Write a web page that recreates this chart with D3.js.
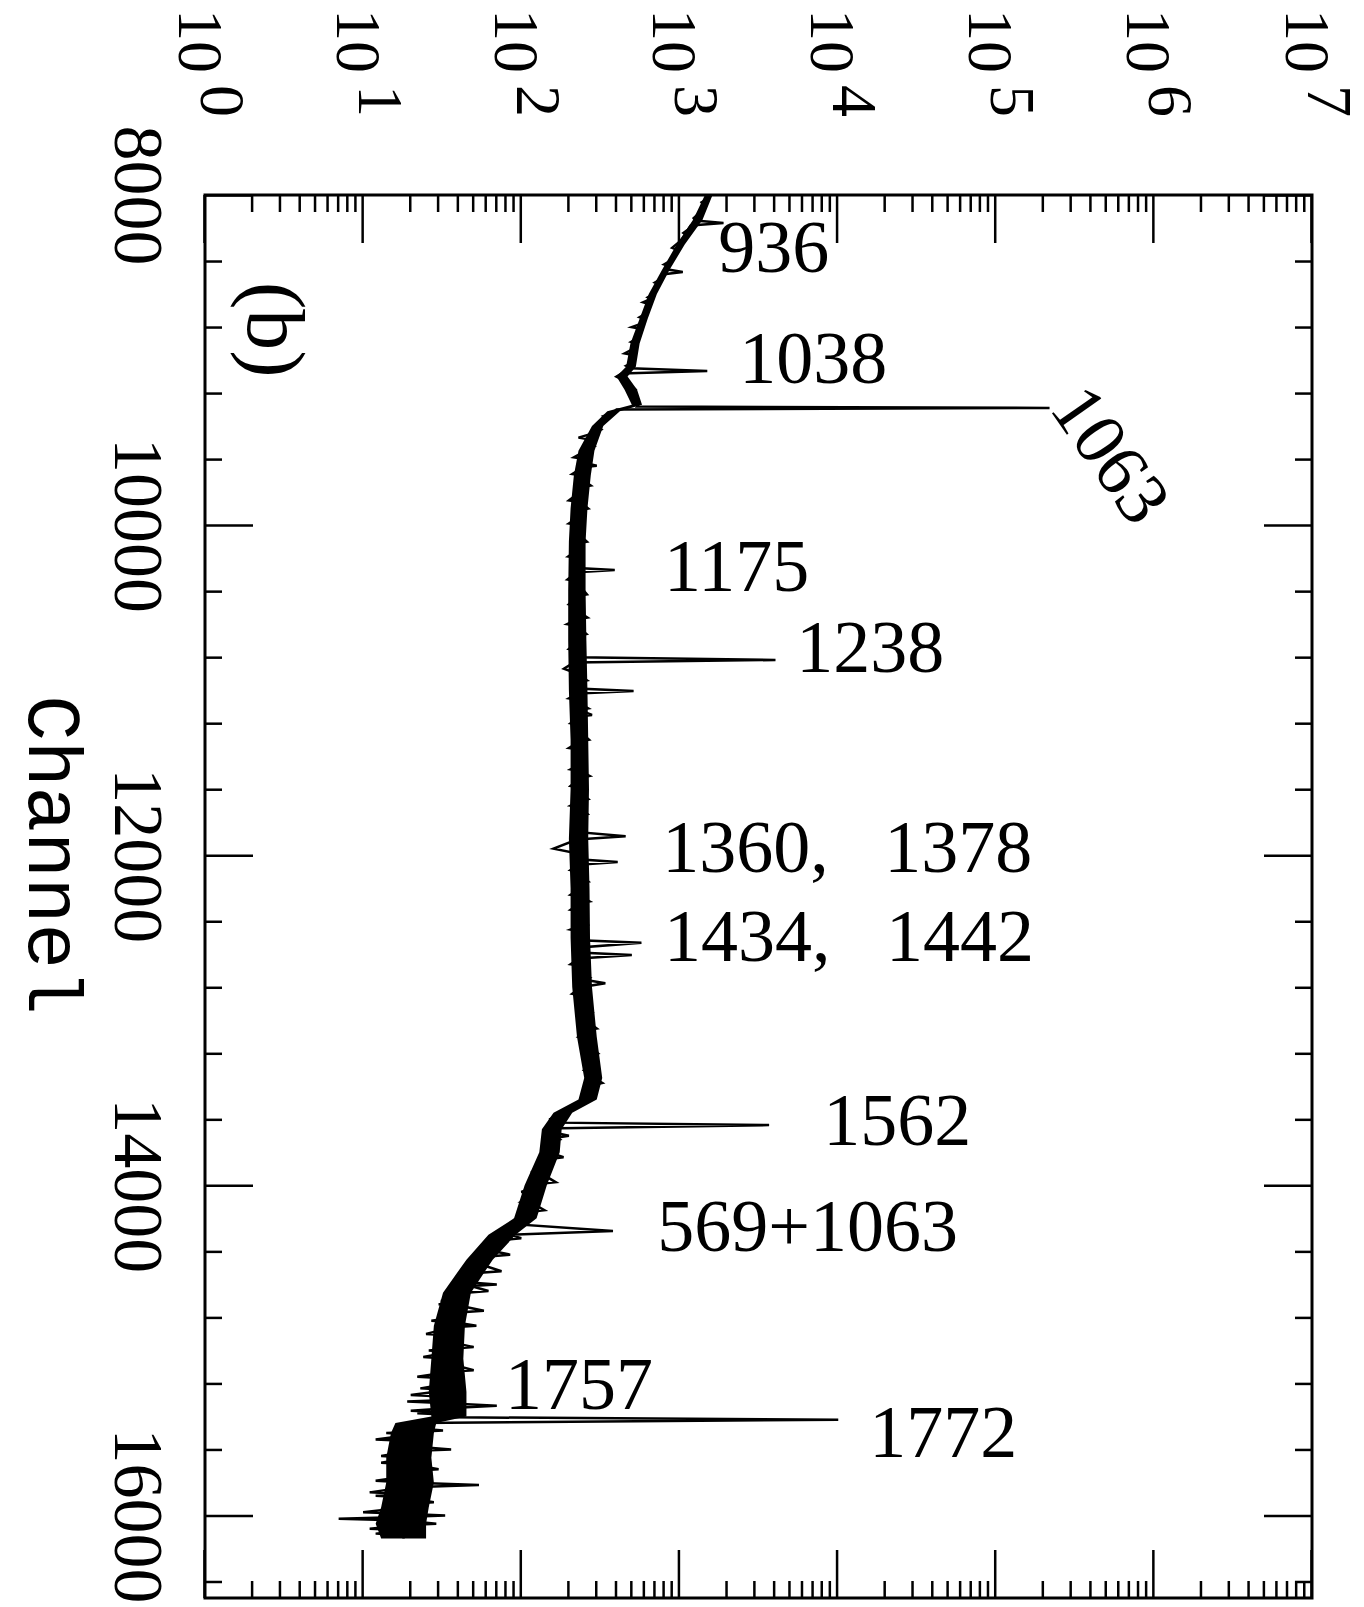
<!DOCTYPE html>
<html>
<head>
<meta charset="utf-8">
<script src="https://cdn.jsdelivr.net/npm/d3@7/dist/d3.min.js"></script>
<style>
  body { margin: 0; background: #fff; }
  text { fill: #000; }
</style>
</head>
<body>
<div id="chart-area"></div>
<script>

// spectrum trace as [channel, counts] (w = noise whisker)
var traceTop = [[8000, 1520], [8030, 1470], [8045, 1380], [8060, 1420], [8100, 1350], [8120, 1300], [8140, 1230],
    [8155, 1260], [8170, 1900], [8185, 1180], [8210, 1130], [8230, 1060], [8240, 1100], [8280, 1010], [8320, 900],
    [8330, 960], [8370, 920], [8400, 870], [8420, 800], [8430, 860], [8450, 830], [8466, 1050], [8480, 800],
    [8510, 760], [8530, 700], [8540, 740], [8580, 700], [8600, 680], [8620, 630], [8630, 660], [8650, 590],
    [8660, 640], [8700, 620], [8720, 610], [8740, 560], [8750, 600], [8780, 575], [8800, 500], [8810, 565],
    [8850, 550], [8870, 540], [8890, 495], [8900, 535], [8930, 515], [8960, 450], [8970, 510], [9000, 505],
    [9020, 495], [9035, 460], [9050, 490], [9066, 1500], [9082, 430], [9100, 400], [9110, 420], [9120, 470],
    [9160, 500], [9180, 530], [9200, 520], [9240, 540], [9270, 550], [9282, 540], [9290, 219000]];

var traceMiddle = [[9300, 400], [9320, 380], [9340, 330], [9360, 350], [9400, 300], [9420, 320], [9450, 270],
    [9470, 230], [9480, 265], [9520, 290], [9530, 258], [9550, 255], [9590, 215], [9600, 250], [9620, 245],
    [9640, 300], [9650, 245], [9690, 210], [9700, 242], [9720, 240], [9760, 275], [9770, 238], [9800, 235],
    [9850, 200], [9860, 235], [9900, 265], [9910, 234], [9950, 232], [9990, 200], [10000, 232], [10050, 228],
    [10100, 260], [10110, 228], [10150, 228], [10190, 198], [10200, 228], [10230, 226], [10260, 226], [10272, 390],
    [10285, 224], [10330, 196], [10340, 226], [10350, 226], [10420, 260], [10430, 226], [10480, 200], [10490, 226],
    [10520, 226], [10560, 262], [10570, 226], [10600, 195], [10610, 226], [10660, 258], [10670, 228], [10700, 228],
    [10750, 200], [10760, 228], [10800, 226], [10817, 4050], [10832, 215], [10870, 186], [10900, 225], [10940, 260],
    [10950, 230], [10990, 228], [11005, 513], [11020, 228], [11050, 200], [11060, 230], [11080, 232], [11110, 265],
    [11120, 232], [11150, 280], [11160, 232], [11200, 205], [11210, 234], [11250, 234], [11300, 268], [11310, 234],
    [11350, 200], [11360, 234], [11400, 236], [11450, 236], [11480, 205], [11490, 236], [11520, 270], [11530, 236],
    [11580, 205], [11590, 236], [11620, 236], [11660, 265], [11670, 236], [11700, 205], [11710, 234], [11750, 262],
    [11760, 234], [11790, 232], [11860, 232], [11885, 457], [11905, 225], [11960, 160], [11990, 228], [12025, 230],
    [12041, 407], [12058, 230], [12090, 205], [12100, 234], [12120, 234], [12160, 265], [12170, 236], [12200, 236],
    [12240, 205], [12250, 236], [12280, 270], [12290, 236], [12330, 205], [12340, 234], [12380, 234], [12420, 262],
    [12430, 234], [12450, 205], [12460, 234], [12515, 236], [12530, 575], [12560, 225], [12590, 232], [12605, 500],
    [12625, 232], [12660, 205], [12670, 236], [12700, 236], [12740, 270], [12750, 236], [12775, 340], [12800, 238],
    [12840, 210], [12850, 240], [12900, 245], [12950, 280], [12960, 248], [13000, 255], [13050, 300], [13060, 258],
    [13100, 230], [13110, 262], [13150, 265], [13200, 305], [13210, 272], [13250, 280], [13300, 250], [13310, 285],
    [13350, 290], [13380, 325], [13390, 290], [13420, 285], [13450, 250], [13460, 275], [13480, 260], [13530, 215],
    [13580, 175], [13600, 150], [13610, 172], [13620, 170]];

var traceTail = [[13635, 3690], [13655, 140], [13680, 160], [13700, 200], [13710, 170], [13720, 175], [13740, 135],
    [13750, 155], [13760, 150], [13800, 150], [13830, 185], [13840, 150], [13850, 130], [13860, 150], [13900, 145],
    [13920, 115], [13930, 142], [13940, 140], [13980, 165], [13990, 132], [14000, 128], [14040, 100], [14050, 122],
    [14060, 120], [14100, 100], [14110, 118], [14150, 140], [14160, 115], [14180, 112], [14210, 90], [14220, 108],
    [14240, 106], [14276, 380], [14300, 85], [14320, 100], [14330, 78], [14340, 76], [14370, 58], [14380, 72],
    [14400, 68], [14420, 85], [14430, 65], [14450, 62], [14480, 48], [14490, 60], [14520, 75], [14530, 55],
    [14550, 52], [14580, 40], [14590, 50], [14600, 70], [14610, 48], [14640, 62], [14650, 45], [14680, 42],
    [14700, 31], [14710, 42], [14720, 30], [14730, 41], [14760, 58], [14770, 40], [14800, 38], [14820, 27],
    [14830, 38], [14850, 52], [14860, 37], [14900, 25], [14910, 36], [14950, 36], [14980, 50], [14990, 36],
    [15000, 26], [15010, 36], [15040, 24], [15050, 35], [15080, 35], [15120, 50], [15130, 35], [15160, 22],
    [15170, 35], [15200, 35], [15230, 23], [15240, 35], [15270, 20], [15280, 34], [15300, 34], [15310, 19],
    [15320, 34], [15336, 70], [15350, 34], [15365, 20], [15375, 34], [15380, 22], [15390, 35], [15405, 36],
    [15420, 10100], [15440, 22], [15470, 21], [15485, 32], [15495, 21], [15500, 14], [15510, 21], [15540, 12],
    [15550, 21], [15580, 20], [15600, 36], [15610, 20], [15640, 13], [15650, 20], [15680, 13], [15690, 20],
    [15720, 30], [15730, 20], [15760, 20], [15790, 12], [15800, 19], [15815, 54], [15830, 18], [15860, 11],
    [15870, 18], [15880, 12], [15890, 18], [15920, 28], [15930, 18], [15950, 19], [15980, 10], [15990, 18],
    [16000, 33], [16010, 18], [16020, 7], [16030, 18], [16050, 29], [16060, 18], [16080, 11], [16090, 19],
    [16110, 12], [16120, 18], [16140, 18]];

// thickness of the noise band
var bandChannels = [8000, 8150, 8300, 8450, 8600, 8750, 8900, 9040, 9100, 9180, 9270, 9310, 9400, 9550, 9700, 9900,
    10100, 10400, 10700, 11000, 11300, 11600, 11900, 12200, 12500, 12800, 13100, 13350, 13480, 13560, 13660, 13800,
    14000, 14200, 14300, 14450, 14650, 14850, 15050, 15250, 15400, 15440, 15500, 15650, 15800, 15950, 16050, 16140];
var bandLow = [1450, 1220, 960, 780, 640, 560, 490, 460, 400, 450, 500, 350, 280, 230, 215, 205,
    200, 198, 198, 200, 205, 205, 200, 205, 205, 210, 225, 250, 230, 160, 135, 130,
    105, 90, 62, 45, 32, 28, 27, 26, 27, 16, 15, 14, 14, 13, 12, 13];
var bandHigh = [1620, 1400, 1080, 870, 720, 630, 560, 530, 470, 540, 580, 420, 330, 290, 275, 262,
    255, 255, 258, 262, 265, 268, 265, 270, 272, 280, 300, 325, 300, 210, 180, 175,
    145, 125, 92, 66, 48, 44, 43, 45, 45, 29, 28, 27, 28, 26, 25, 25];

// axis ticks
var channelMajor = [8000, 10000, 12000, 14000, 16000];
var channelMinor = [8400, 8800, 9200, 9600, 10400, 10800, 11200, 11600, 12400, 12800, 13200, 13600,
    14400, 14800, 15200, 15600, 16400];
var decades = [0, 1, 2, 3, 4, 5, 6, 7];
var minorSteps = [2, 3, 4, 5, 6, 7, 8, 9];

// peak labels (gamma energies) and where they sit (channel, counts)
var peakNames = ["936", "1038", "1063", "1175", "1238", "1360,   1378", "1434,   1442", "1562", "569+1063", "1757", "1772"];
var peakAnchorChannel = [8466, 9139, 9290, 10399, 10890, 12102, 12641, 13756, 14398, 15355, 15646];
var peakAnchorCounts = [1758, 2388, 214800, 800, 5470, 778, 800, 8110, 723, 79, 15850];
var peakAngle = [0, 0, 55, 0, 0, 0, 0, 0, 0, 0, 0];


var width = 1364,
    height = 1607;

// the figure is printed turned a quarter turn clockwise
var originX = 1312, originY = 195;
var plotW = 1403, plotH = 1107;

var svg = d3.select("#chart-area")
    .append("svg")
    .attr("width", width)
    .attr("height", height);

svg.append("rect").attr("width", width).attr("height", height).attr("fill", "#fff");

var plot = svg.append("g")
    .attr("transform", "translate(" + originX + "," + originY + ") rotate(90)");

var x = d3.scaleLinear()
    .domain([8000, 16500])
    .range([0, plotW]);

var y = d3.scaleLog()
    .domain([1, 1e7])
    .range([plotH, 0]);

var minorCounts = [];
decades.slice(0, 7).forEach(function (d) {
    minorSteps.forEach(function (m) { minorCounts.push(m * Math.pow(10, d)); });
});
var decadeCounts = decades.map(function (d) { return Math.pow(10, d); });

function drawAxis(axis, tx, ty) {
    var g = plot.append("g")
        .attr("transform", "translate(" + tx + "," + ty + ")")
        .call(axis);
    g.select(".domain").remove();
    g.selectAll("line").attr("stroke", "#000").attr("stroke-width", 2.5);
    return g;
}

// channel axis, bottom with labels
var xAxis = drawAxis(d3.axisBottom(x).tickValues(channelMajor).tickSize(-48).tickSizeOuter(0)
    .tickPadding(40).tickFormat(d3.format("d")), 0, plotH);
xAxis.attr("font-family", "'Liberation Serif', serif").attr("font-size", 70);
xAxis.selectAll("text").attr("fill", "#000");
drawAxis(d3.axisBottom(x).tickValues(channelMinor).tickSize(-17).tickSizeOuter(0).tickFormat(""), 0, plotH);
drawAxis(d3.axisTop(x).tickValues(channelMajor).tickSize(-48).tickSizeOuter(0).tickFormat(""), 0, 0);
drawAxis(d3.axisTop(x).tickValues(channelMinor).tickSize(-17).tickSizeOuter(0).tickFormat(""), 0, 0);

// counts axis
drawAxis(d3.axisLeft(y).tickValues(decadeCounts).tickSize(-48).tickSizeOuter(0).tickFormat(""), 0, 0);
drawAxis(d3.axisLeft(y).tickValues(minorCounts).tickSize(-17).tickSizeOuter(0).tickFormat(""), 0, 0);
drawAxis(d3.axisRight(y).tickValues(decadeCounts).tickSize(-48).tickSizeOuter(0).tickFormat(""), plotW, 0);
drawAxis(d3.axisRight(y).tickValues(minorCounts).tickSize(-17).tickSizeOuter(0).tickFormat(""), plotW, 0);

var yLabels = plot.selectAll(".ylab")
    .data(decades)
    .enter()
    .append("text")
    .attr("class", "ylab")
    .attr("x", -78)
    .attr("y", function (d) { return y(Math.pow(10, d)) + 4; })
    .attr("dy", "0.35em")
    .attr("text-anchor", "end")
    .attr("font-family", "'Liberation Serif', serif")
    .attr("font-size", 64);
yLabels.append("tspan").text("10");
yLabels.append("tspan").attr("dx", 12).attr("dy", -22).text(function (d) { return d; });

// frame
plot.append("rect")
    .attr("width", plotW)
    .attr("height", plotH)
    .attr("fill", "none")
    .attr("stroke", "#000")
    .attr("stroke-width", 3);

// axis title and panel tag
plot.append("text")
    .attr("x", 660)
    .attr("y", plotH + 176)
    .attr("text-anchor", "middle")
    .attr("font-family", "'Liberation Mono', monospace")
    .attr("font-size", 76)
    .text("Channel");

plot.append("text")
    .attr("x", 87)
    .attr("y", 1064)
    .attr("font-family", "'Liberation Serif', serif")
    .attr("font-size", 82)
    .text("(b)");

// spectrum
var band = d3.zip(bandChannels, bandLow, bandHigh);
var area = d3.area()
    .x(function (d) { return x(d[0]); })
    .y0(function (d) { return y(d[1]); })
    .y1(function (d) { return y(d[2]); });
plot.append("path")
    .datum(band)
    .attr("d", area)
    .attr("fill", "#000");

var spectrum = traceTop.concat(traceMiddle, traceTail);
var line = d3.line()
    .x(function (d) { return x(d[0]); })
    .y(function (d) { return y(d[1]); });
plot.append("path")
    .datum(spectrum)
    .attr("d", line)
    .attr("fill", "none")
    .attr("stroke", "#000")
    .attr("stroke-width", 2.5)
    .attr("stroke-linejoin", "miter");

// peak labels are upright on the page
svg.selectAll(".peak")
    .data(peakNames)
    .enter()
    .append("text")
    .attr("class", "peak")
    .attr("transform", function (d, i) {
        var sx = originX - y(peakAnchorCounts[i]);
        var sy = originY + x(peakAnchorChannel[i]);
        return "translate(" + sx + "," + sy + ") rotate(" + peakAngle[i] + ")";
    })
    .attr("font-family", "'Liberation Serif', serif")
    .attr("font-size", 74)
    .style("white-space", "pre")
    .text(function (d) { return d; });

</script>
</body>
</html>
